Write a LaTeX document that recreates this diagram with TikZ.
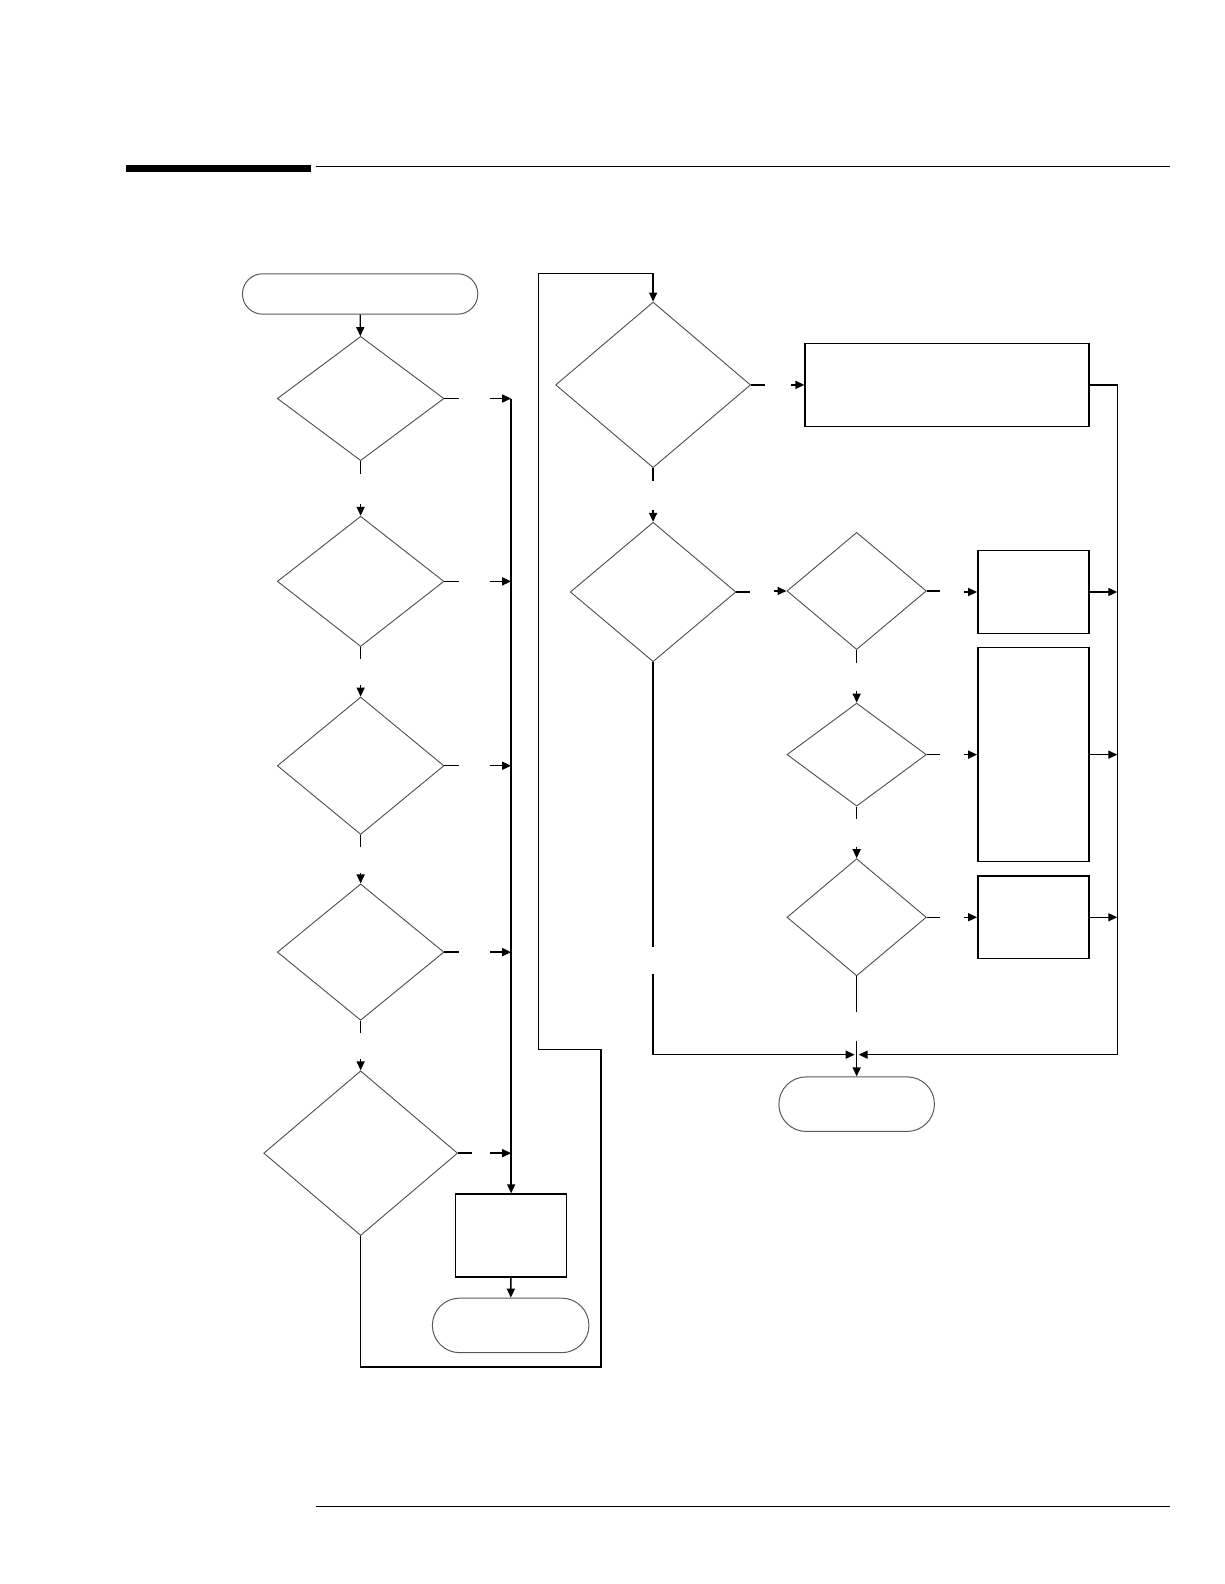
\documentclass[tikz,border=0pt]{standalone}
\usetikzlibrary{shapes.geometric,arrows.meta,calc}
\newdimen\uu \uu=0.505pt
\tikzset{
  dec/.style={diamond, draw=black!70, line width=0.45pt, inner sep=0pt, aspect=1},
  box/.style={rectangle, draw=black, line width=0.75pt, inner sep=0pt},
  term/.style={rectangle, draw=black!65, line width=0.5pt, inner sep=0pt},
  con/.style={line width=0.7pt},
  arr/.style={con, -{Triangle[length=4.5pt,width=4pt]}},
}
\begin{document}
\begin{tikzpicture}[x=0.505pt,y=-0.505pt]
\useasboundingbox (0,0) rectangle (1212,1568);
% header / footer
\fill (125,163) rectangle (308,170);
\draw[line width=0.6pt] (313,164.5) -- (1158,164.5);
\draw[line width=0.6pt] (313,1491) -- (1158,1491);

% left column
\node[term, minimum width=233\uu, minimum height=40\uu, rounded corners=20\uu] (t1) at (356.5,291) {};
\node[dec, minimum width=165\uu, minimum height=123\uu] (d1) at (357,394.5) {};
\node[dec, minimum width=165\uu, minimum height=129\uu] (d2) at (357,575.5) {};
\node[dec, minimum width=165\uu, minimum height=136\uu] (d3) at (357,758) {};
\node[dec, minimum width=165\uu, minimum height=135\uu] (d4) at (357,942.5) {};
\node[dec, minimum width=192\uu, minimum height=163\uu] (d5) at (357,1141.5) {};
\node[box, minimum width=110\uu, minimum height=82\uu] (bl) at (506,1223) {};
\node[term, minimum width=155\uu, minimum height=54\uu, rounded corners=27\uu] (t2) at (505.5,1312) {};

% right column
\node[dec, minimum width=193\uu, minimum height=164\uu] (d6) at (646.5,381) {};
\node[box, minimum width=281\uu, minimum height=82\uu] (bw) at (937.5,381) {};
\node[dec, minimum width=164\uu, minimum height=138\uu] (d7) at (646.5,586) {};
\node[dec, minimum width=138\uu, minimum height=116\uu] (d8) at (848,585) {};
\node[box, minimum width=110\uu, minimum height=82\uu] (ba) at (1023,586) {};
\node[dec, minimum width=138\uu, minimum height=102\uu] (d9) at (848,747) {};
\node[box, minimum width=110\uu, minimum height=212\uu] (bb) at (1023,747) {};
\node[dec, minimum width=138\uu, minimum height=116\uu] (d10) at (848,908) {};
\node[box, minimum width=110\uu, minimum height=82\uu] (bc) at (1023,908) {};
\node[term, minimum width=154\uu, minimum height=54\uu, rounded corners=27\uu] (t3) at (848,1093) {};

% coordinates
\coordinate (bus1) at (506,394.5);
\coordinate (bus2) at (506,575.5);
\coordinate (bus3) at (506,758);
\coordinate (bus4) at (506,942.5);
\coordinate (bus5) at (506,1141.5);
\coordinate (rb) at (1106,381);
\coordinate (rbA) at (1106,586);
\coordinate (rbB) at (1106,747);
\coordinate (rbC) at (1106,908);
\coordinate (jn) at (848,1044);

% left flow
\draw[arr] (t1) -- (d1);
\draw[con] (d1.south) -- ++(0,13);
\draw[arr] (357,499) -- (d2.north);
\draw[con] (d2.south) -- ++(0,12);
\draw[arr] (357,678) -- (d3.north);
\draw[con] (d3.south) -- ++(0,12);
\draw[arr] (357,864) -- (d4.north);
\draw[con] (d4.south) -- ++(0,12);
\draw[arr] (357,1048) -- (d5.north);

\foreach \d/\b in {d1/bus1,d2/bus2,d3/bus3,d4/bus4,d5/bus5}{
  \draw[con] (\d.east) -- ++(14,0);
  \draw[arr] ($(\b)+(-21,0)$) -- (\b);
}
\draw[arr] (bus1) -- (bl);
\draw[arr] (bl) -- (t2);

% loop to right column
\draw[arr] (d5.south) -- (357,1353) -- (595,1353) -- (595,1039) -- (533,1039) -- (533,271) -- (646.5,271) -- (d6.north);

% right flow
\draw[con] (d6.east) -- ++(14,0);
\draw[arr] (783,381) -- (bw.west);
\draw[con] (d6.south) -- ++(0,13);
\draw[arr] (646.5,505) -- (d7.north);
\draw[con] (d7.east) -- ++(13,0);
\draw[arr] (766,585) -- (d8.west);
\draw[con] (d7.south) -- (646.5,937);
\draw[arr] (646.5,964) -- (646.5,1044) -- ([xshift=-1]jn);
\draw[con] (bw.east) -- (rb) -- (1106,1044);
\draw[arr] (1106,1044) -- ([xshift=1]jn);

\draw[con] (d8.south) -- ++(0,13);
\draw[arr] (848,684) -- (d9.north);
\draw[con] (d9.south) -- ++(0,12);
\draw[arr] (848,838) -- (d10.north);
\draw[con] (d10.south) -- ++(0,35);
\draw[arr] (848,1030) -- (t3.north);

\foreach \d/\b/\r in {d8/ba/rbA,d9/bb/rbB,d10/bc/rbC}{
  \draw[con] (\d.east) -- ++(13,0);
  \draw[arr] ($(\b.west)+(-13,0)$) -- (\b.west);
  \draw[arr] (\b.east) -- (\r);
}
\end{tikzpicture}
\end{document}
